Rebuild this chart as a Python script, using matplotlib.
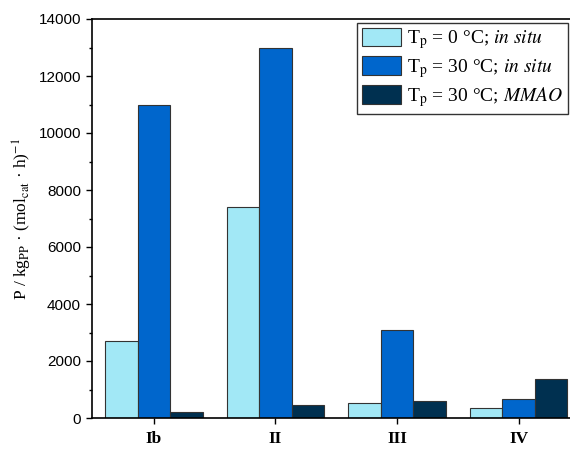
import matplotlib
matplotlib.use("Agg")
import matplotlib.pyplot as plt
import numpy as np
from matplotlib.ticker import MultipleLocator

catalysts = ["Ib", "II", "III", "IV"]
p_0c_insitu = [2700, 7400, 520, 350]
p_30c_insitu = [11000, 13000, 3100, 650]
p_30c_mmao = [220, 450, 600, 1380]

series = [
    (p_0c_insitu, "#a2e8f6", r"T$_\mathrm{p}$ = 0 °C; $\it{in\ situ}$"),
    (p_30c_insitu, "#0066cc", r"T$_\mathrm{p}$ = 30 °C; $\it{in\ situ}$"),
    (p_30c_mmao, "#003050", r"T$_\mathrm{p}$ = 30 °C; $\it{MMAO}$"),
]

plt.rcParams["font.family"] = "Liberation Serif"
plt.rcParams["mathtext.fontset"] = "stix"

fig = plt.figure(figsize=(5.7, 4.49), dpi=100)
ax = fig.add_axes([92 / 570, 1 - 418 / 449, 480 / 570, 399 / 449])

x = np.arange(len(catalysts))
w = 0.268
for i, (vals, col, lab) in enumerate(series):
    ax.bar(x + (i - 1) * w, vals, w, color=col, edgecolor="#333333",
           linewidth=0.8, label=lab)

ax.set_xlim(-0.51, 3.44)
ax.set_ylim(0, 14000)
ax.set_xticks(x)
ax.set_xticklabels(catalysts, fontweight="bold", fontsize=12.5)
ax.yaxis.set_major_locator(MultipleLocator(2000))
ax.yaxis.set_minor_locator(MultipleLocator(1000))
for lbl in ax.get_yticklabels():
    lbl.set_family("Liberation Sans")
    lbl.set_fontsize(11)
ax.tick_params(axis="both", which="major", direction="out", length=4.5, width=1)
ax.tick_params(axis="y", which="minor", direction="out", length=2.5, width=1)
ax.tick_params(axis="x", pad=5)
ax.set_ylabel(r"P / kg$_\mathrm{PP}$ · (mol$_\mathrm{cat}$ · h)$^{-1}$", fontsize=12.5,
              labelpad=3)
for s in ax.spines.values():
    s.set_linewidth(1.2)

leg = ax.legend(loc="upper right", fontsize=14, frameon=True, fancybox=False,
                edgecolor="black", handlelength=2.0, handleheight=1.1,
                borderaxespad=0.2, labelspacing=0.25, handletextpad=0.3,
                borderpad=0.25)
leg.get_frame().set_linewidth(1.0)

fig.savefig("out.png", dpi=100)
